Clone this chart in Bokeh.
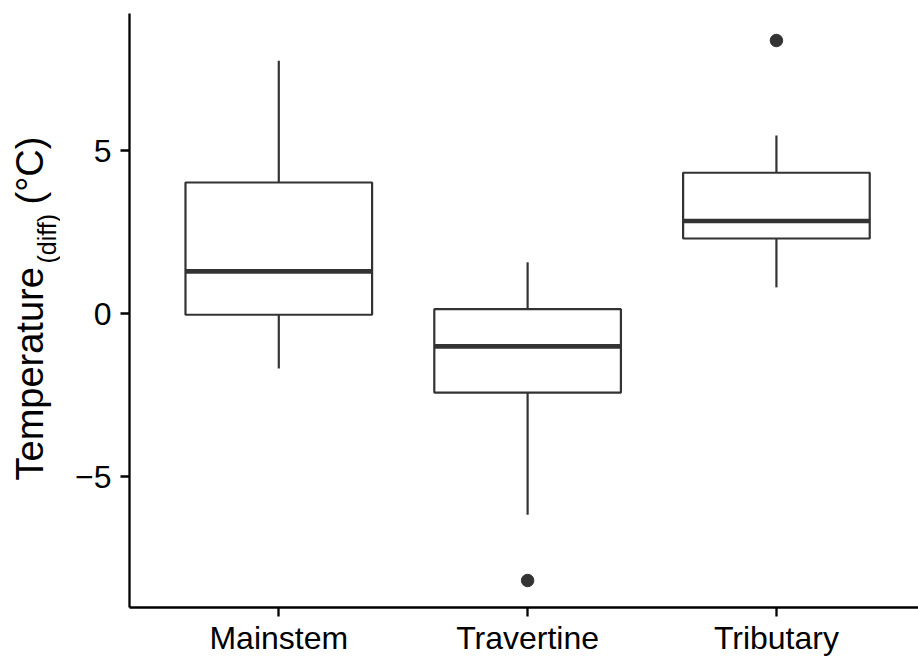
import numpy as np
from bokeh.plotting import figure
from bokeh.layouts import row
from bokeh.models import ColumnDataSource, FixedTicker, Range1d
from bokeh.core.properties import value
from bokeh.embed import file_html
from bokeh.resources import INLINE

# Box-plot summaries of temperature difference by reach type
categories = ["Mainstem", "Travertine", "Tributary"]
whisker_low = [-1.68, -6.17, 0.81]
q1 = [-0.03, -2.42, 2.31]
median = [1.30, -1.00, 2.85]
q3 = [4.03, 0.14, 4.33]
whisker_high = [7.77, 1.58, 5.47]

# Points beyond the whiskers
outlier_group = ["Travertine", "Tributary"]
outlier_value = [-8.19, 8.39]

y_ticks = [-5, 0, 5]
y_tick_labels = ["\u22125", "0", "5"]

FONT = "Liberation Sans"
INK = "#333333"
BOX_WIDTH = 0.75

xpos = np.arange(1, len(categories) + 1, dtype=float)
pos_of = {c: i + 1 for i, c in enumerate(categories)}

# y limits: data extent plus 5% on each side
all_vals = whisker_low + whisker_high + outlier_value
lo, hi = min(all_vals), max(all_vals)
pad = 0.05 * (hi - lo)
y0, y1 = lo - pad, hi + pad
x0, x1 = 0.4, 3.571

W, H = 918, 658
TITLE_W = 60          # strip that holds the y-axis title
LEFT, TOP, BOTTOM = 129, 13, 51
FRAME_H = H - TOP - BOTTOM

y_range = Range1d(y0, y1)


def y_at(py):
    """data y for a pixel row of the canvas"""
    return y1 - (py - TOP) * (y1 - y0) / FRAME_H


# ---- y-axis title strip ----
t = figure(width=TITLE_W, height=H, output_backend="svg", toolbar_location=None,
           x_range=Range1d(0, TITLE_W), y_range=y_range,
           x_axis_type=None, y_axis_type=None,
           min_border_left=0, min_border_right=0,
           min_border_top=TOP, min_border_bottom=BOTTOM)
t.outline_line_color = None
t.xgrid.visible = False
t.ygrid.visible = False
t.background_fill_color = "white"
t.border_fill_color = "white"


def title_piece(text, px, py, size):
    t.text(x=[px], y=[y_at(py)], text=[text], angle=np.pi / 2,
           text_font=value(FONT), text_font_size=value(size),
           text_color="black", text_align="left", text_baseline="alphabetic")


title_piece("Temperature", 29, 480, "38px")
title_piece("(diff)", 46, 263, "25px")
title_piece("(\u00b0C)", 29, 204, "38px")

# ---- main box plot ----
p = figure(width=W - TITLE_W, height=H, output_backend="svg", toolbar_location=None,
           x_range=Range1d(x0, x1), y_range=y_range,
           min_border_left=LEFT - TITLE_W, min_border_right=0, min_border_top=TOP,
           min_border_bottom=BOTTOM)
p.outline_line_color = None
p.background_fill_color = "white"
p.border_fill_color = "white"
p.xgrid.visible = False
p.ygrid.visible = False

src = ColumnDataSource(dict(
    x=xpos,
    left=xpos - BOX_WIDTH / 2,
    right=xpos + BOX_WIDTH / 2,
    lo=whisker_low, q1=q1, med=median, q3=q3, hi=whisker_high,
))

# whiskers
p.segment(x0="x", y0="q3", x1="x", y1="hi", source=src, line_color=INK, line_width=2.2)
p.segment(x0="x", y0="lo", x1="x", y1="q1", source=src, line_color=INK, line_width=2.2)
# boxes
p.quad(left="left", right="right", bottom="q1", top="q3", source=src,
       fill_color="white", line_color=INK, line_width=2.2)
# medians
p.segment(x0="left", y0="med", x1="right", y1="med", source=src,
          line_color=INK, line_width=4.6)
# outliers
p.scatter(x=[pos_of[g] for g in outlier_group], y=outlier_value,
          size=12.5, color=INK)

# axes
for ax in (p.xaxis[0], p.yaxis[0]):
    ax.axis_line_color = "black"
    ax.axis_line_width = 2.3
    ax.major_tick_line_color = "black"
    ax.major_tick_line_width = 2.3
    ax.major_tick_out = 9
    ax.major_tick_in = 0
    ax.minor_tick_line_color = None
    ax.major_label_text_font = FONT
    ax.major_label_text_font_size = "32px"
    ax.major_label_text_color = "black"

p.xaxis.ticker = FixedTicker(ticks=list(xpos))
p.xaxis.major_label_overrides = {float(v): c for v, c in zip(xpos, categories)}
p.xaxis.major_label_standoff = 3
p.yaxis.ticker = FixedTicker(ticks=y_ticks)
p.yaxis.major_label_overrides = {t_: s for t_, s in zip(y_ticks, y_tick_labels)}
p.yaxis.major_label_standoff = 9

layout = row(t, p, spacing=0)
open("out.html", "w").write(file_html(layout, INLINE))
